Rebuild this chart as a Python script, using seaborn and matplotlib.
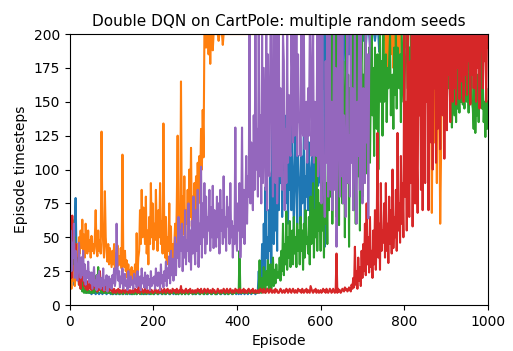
import numpy as np
import pandas as pd
import matplotlib
matplotlib.use("Agg")
import matplotlib.pyplot as plt
import seaborn as sns

title = "Double DQN on CartPole: multiple random seeds"
x_label = "Episode"
y_label = "Episode timesteps"
x_ticks = [0, 200, 400, 600, 800, 1000]
y_ticks = [0, 25, 50, 75, 100, 125, 150, 175, 200]

# episode timesteps read every 2 episodes (0, 2, ..., 1000); one row = 50 episodes
seed0 = [
    58, 30, 45, 20, 35, 15, 60, 79, 40, 25, 30, 18, 22, 14, 20, 12, 16, 11, 10, 12, 9, 10, 11, 9, 10,
    9, 8, 9, 10, 9, 9, 8, 9, 10, 9, 8, 9, 9, 10, 8, 9, 9, 10, 9, 8, 9, 10, 9, 9, 8,
    9, 10, 8, 9, 9, 8, 10, 9, 9, 8, 9, 10, 9, 8, 9, 9, 10, 8, 9, 9, 10, 9, 8, 9, 9,
    8, 9, 9, 10, 9, 8, 9, 9, 10, 9, 9, 8, 10, 9, 9, 8, 9, 10, 9, 9, 8, 9, 9, 10, 9,
    9, 8, 9, 10, 9, 9, 8, 9, 10, 9, 8, 9, 9, 10, 8, 9, 9, 10, 9, 8, 9, 10, 9, 9, 8,
    9, 10, 8, 9, 9, 8, 10, 9, 9, 8, 9, 10, 9, 8, 9, 9, 10, 8, 9, 9, 10, 9, 8, 9, 9,
    8, 9, 9, 10, 9, 8, 9, 9, 10, 9, 9, 8, 10, 9, 9, 8, 9, 10, 9, 9, 8, 9, 9, 10, 9,
    9, 8, 9, 10, 9, 9, 8, 9, 10, 9, 8, 9, 9, 10, 8, 9, 9, 10, 9, 8, 9, 10, 9, 9, 8,
    9, 10, 8, 9, 9, 8, 10, 9, 9, 8, 9, 10, 9, 8, 9, 9, 10, 8, 9, 9, 10, 9, 8, 9, 9,
    12, 25, 9, 31, 15, 45, 11, 60, 20, 87, 35, 50, 18, 70, 40, 95, 30, 132, 60, 45, 110, 55, 80, 40, 120,
    70, 146, 90, 130, 65, 110, 100, 140, 75, 120, 95, 60, 110, 85, 140, 70, 120, 90, 55, 100, 130, 88, 60, 110, 95,
    90, 60, 110, 75, 95, 125, 55, 95, 80, 130, 70, 120, 90, 65, 100, 110, 85, 60, 130, 75, 95, 125, 88, 100, 200,
    90, 200, 200, 160, 200, 43, 200, 200, 180, 200, 200, 150, 200, 200, 200, 170, 200, 200, 120, 200, 200, 200, 190, 200, 200,
    200, 200, 160, 200, 200, 200, 100, 200, 200, 185, 200, 200, 200, 200, 170, 200, 200, 200, 195, 200, 200, 190, 200, 200, 200,
    200, 195, 200, 200, 190, 200, 200, 200, 200, 192, 200, 200, 200, 200, 200, 195, 200, 200, 200, 200, 187, 200, 200, 200, 200,
    200, 200, 200, 200, 200, 200, 200, 200, 200, 200, 200, 200, 200, 200, 200, 200, 200, 200, 200, 200, 200, 200, 200, 200, 200,
    200, 200, 200, 200, 200, 200, 200, 200, 200, 200, 200, 200, 200, 200, 200, 200, 200, 200, 200, 200, 200, 200, 200, 200, 200,
    200, 200, 200, 200, 200, 200, 200, 200, 200, 200, 200, 200, 200, 200, 200, 200, 200, 200, 200, 200, 200, 200, 200, 200, 200,
    200, 200, 200, 200, 200, 200, 200, 200, 200, 200, 200, 200, 200, 200, 200, 200, 200, 200, 200, 200, 200, 200, 200, 200, 200,
    200, 200, 200, 200, 200, 200, 200, 200, 200, 200, 200, 200, 200, 200, 200, 200, 200, 200, 200, 200, 200, 200, 200, 200, 200,
    200]

seed1 = [
    15, 20, 12, 25, 18, 30, 14, 22, 35, 45, 30, 50, 38, 55, 42, 63, 40, 52, 35, 60, 45, 38, 55, 40, 48,
    35, 51, 40, 45, 38, 50, 70, 42, 36, 55, 40, 48, 38, 128, 60, 45, 35, 84, 50, 40, 32, 45, 30, 42, 35,
    28, 40, 30, 45, 26, 38, 32, 44, 29, 36, 30, 42, 27, 111, 35, 28, 40, 25, 33, 20, 30, 18, 26, 22, 28,
    17, 25, 20, 30, 18, 53, 22, 35, 40, 70, 45, 85, 50, 72, 60, 45, 80, 38, 55, 30, 65, 45, 90, 50, 75,
    41, 60, 48, 85, 55, 40, 70, 50, 90, 45, 62, 38, 134, 55, 35, 65, 30, 50, 40, 75, 32, 58, 27, 45, 35,
    45, 60, 40, 75, 125, 55, 70, 45, 165, 60, 80, 52, 95, 48, 70, 60, 85, 55, 100, 65, 116, 58, 80, 62, 90,
    65, 95, 70, 105, 75, 110, 92, 130, 100, 144, 109, 200, 200, 190, 200, 200, 185, 200, 178, 200, 200, 188, 200, 200, 200,
    200, 200, 200, 195, 200, 200, 200, 200, 192, 200, 200, 200, 200, 200, 200, 200, 200, 200, 200, 200, 200, 200, 200, 200, 200,
    200, 200, 200, 200, 200, 200, 200, 200, 200, 200, 200, 200, 200, 200, 200, 200, 200, 200, 200, 200, 200, 200, 200, 200, 200,
    200, 200, 200, 200, 200, 200, 200, 200, 200, 200, 200, 200, 200, 200, 200, 200, 200, 200, 200, 200, 200, 200, 200, 200, 200,
    200, 200, 200, 200, 200, 200, 200, 200, 200, 200, 200, 200, 200, 200, 200, 200, 200, 200, 200, 200, 200, 200, 200, 200, 200,
    200, 200, 200, 200, 200, 200, 200, 200, 200, 200, 200, 200, 200, 200, 200, 200, 200, 200, 200, 200, 200, 200, 200, 200, 200,
    200, 200, 200, 200, 200, 200, 200, 200, 200, 200, 200, 200, 200, 200, 200, 200, 200, 200, 200, 200, 200, 200, 200, 200, 200,
    200, 200, 200, 200, 200, 200, 200, 200, 200, 200, 200, 200, 200, 200, 200, 200, 200, 200, 200, 200, 200, 200, 200, 200, 200,
    200, 200, 200, 200, 200, 200, 200, 200, 200, 200, 200, 200, 200, 200, 200, 200, 200, 200, 200, 200, 200, 200, 200, 200, 200,
    200, 196, 200, 180, 200, 200, 168, 200, 200, 185, 200, 200, 175, 200, 200, 200, 190, 200, 200, 170, 200, 200, 200, 200, 200,
    200, 190, 200, 200, 185, 200, 200, 200, 200, 200, 195, 200, 200, 200, 200, 200, 200, 200, 200, 200, 200, 200, 200, 200, 200,
    200, 200, 200, 200, 200, 200, 200, 200, 68, 150, 200, 120, 200, 180, 90, 200, 200, 140, 60, 110, 200, 200, 200, 200, 200,
    200, 200, 200, 200, 200, 200, 200, 200, 200, 200, 200, 200, 200, 200, 200, 200, 200, 200, 200, 200, 200, 200, 200, 200, 200,
    200, 200, 200, 200, 200, 200, 200, 200, 200, 200, 200, 200, 200, 200, 200, 200, 200, 200, 200, 200, 200, 200, 200, 200, 200,
    200]

seed2 = [
    40, 55, 35, 63, 45, 30, 50, 25, 35, 20, 28, 15, 22, 12, 18, 10, 14, 9, 12, 9, 10, 9, 11, 9, 10,
    9, 10, 9, 12, 9, 15, 10, 22, 9, 28, 12, 21, 10, 9, 11, 9, 10, 9, 9, 10, 9, 9, 10, 9, 9,
    9, 8, 9, 10, 9, 9, 8, 9, 10, 9, 8, 9, 9, 10, 8, 9, 9, 10, 9, 8, 9, 10, 9, 9, 8,
    9, 10, 8, 9, 9, 8, 10, 9, 9, 8, 9, 10, 9, 8, 9, 9, 10, 8, 9, 9, 10, 9, 8, 9, 9,
    8, 9, 9, 10, 9, 8, 9, 9, 10, 9, 9, 8, 10, 9, 9, 8, 9, 10, 9, 9, 8, 9, 9, 10, 9,
    9, 10, 8, 9, 9, 8, 10, 9, 9, 8, 9, 10, 9, 8, 9, 9, 10, 8, 9, 9, 10, 9, 8, 9, 9,
    9, 8, 9, 10, 9, 9, 8, 9, 10, 9, 8, 9, 9, 10, 8, 9, 9, 10, 9, 8, 9, 10, 9, 9, 8,
    8, 9, 9, 10, 9, 8, 9, 9, 10, 9, 9, 8, 10, 9, 9, 8, 9, 10, 9, 9, 8, 9, 9, 10, 9,
    9, 10, 9, 40, 9, 10, 9, 9, 10, 9, 9, 10, 9, 9, 10, 9, 9, 10, 9, 9, 10, 9, 9, 10, 9,
    9, 10, 33, 12, 9, 20, 10, 28, 12, 9, 25, 15, 33, 11, 18, 30, 12, 22, 35, 14, 26, 16, 30, 20, 24,
    20, 35, 18, 40, 25, 60, 22, 45, 30, 69, 26, 50, 35, 62, 28, 45, 55, 30, 65, 38, 50, 28, 60, 40, 55,
    30, 65, 40, 55, 26, 60, 35, 70, 45, 50, 38, 65, 30, 80, 45, 60, 90, 35, 70, 50, 109, 40, 85, 55, 75,
    40, 100, 55, 80, 35, 109, 60, 90, 45, 130, 70, 200, 80, 200, 60, 170, 200, 90, 200, 65, 150, 200, 59, 200, 120,
    200, 75, 180, 150, 50, 150, 200, 90, 170, 43, 160, 130, 110, 200, 70, 190, 140, 60, 140, 200, 95, 170, 55, 170, 200,
    80, 170, 130, 200, 97, 180, 150, 120, 190, 105, 160, 200, 140, 175, 110, 190, 155, 130, 185, 100, 170, 200, 150, 180, 125,
    200, 150, 170, 185, 135, 175, 160, 180, 200, 140, 165, 170, 130, 190, 155, 200, 145, 190, 170, 160, 185, 135, 200, 175, 150,
    150, 180, 180, 200, 160, 175, 190, 170, 200, 150, 165, 200, 185, 170, 160, 190, 175, 175, 200, 170, 155, 185, 190, 200, 180,
    170, 200, 200, 160, 200, 185, 200, 150, 200, 200, 175, 200, 165, 200, 200, 155, 200, 190, 200, 145, 200, 180, 200, 160, 200,
    200, 150, 190, 160, 200, 140, 175, 131, 160, 150, 140, 165, 135, 180, 145, 155, 142, 170, 150, 200, 148, 160, 145, 175, 155,
    150, 170, 142, 185, 160, 200, 150, 145, 130, 160, 127, 150, 140, 170, 135, 180, 155, 200, 145, 165, 135, 150, 124, 160, 130,
    150]

seed3 = [
    30, 50, 20, 66, 40, 55, 25, 45, 35, 20, 30, 15, 25, 12, 35, 18, 28, 14, 22, 12, 18, 11, 15, 12, 20,
    14, 11, 16, 12, 22, 13, 18, 12, 10, 14, 11, 25, 12, 15, 11, 13, 10, 12, 16, 11, 13, 10, 12, 11, 14,
    10, 11, 9, 12, 10, 9, 11, 10, 12, 9, 11, 10, 9, 11, 12, 10, 9, 11, 10, 12, 9, 10, 11, 9, 10,
    11, 9, 10, 12, 10, 11, 9, 14, 10, 9, 10, 12, 11, 9, 10, 12, 10, 9, 11, 10, 9, 12, 10, 11, 9,
    9, 10, 12, 11, 9, 10, 11, 9, 10, 12, 11, 9, 10, 12, 10, 9, 11, 12, 10, 9, 11, 10, 9, 12, 11,
    10, 11, 9, 12, 10, 9, 11, 10, 14, 9, 11, 10, 9, 11, 12, 10, 9, 11, 10, 12, 9, 10, 11, 9, 10,
    11, 9, 10, 12, 10, 11, 9, 12, 10, 9, 10, 12, 11, 9, 10, 12, 10, 9, 11, 10, 9, 12, 10, 11, 9,
    9, 10, 12, 11, 9, 10, 11, 9, 10, 12, 11, 9, 10, 12, 10, 9, 11, 12, 10, 9, 11, 10, 9, 12, 11,
    10, 11, 9, 12, 10, 9, 11, 10, 12, 9, 11, 10, 9, 11, 12, 10, 9, 11, 10, 12, 9, 10, 11, 9, 10,
    11, 9, 10, 12, 10, 11, 9, 12, 10, 9, 10, 12, 11, 9, 10, 12, 10, 9, 11, 10, 9, 12, 10, 11, 9,
    9, 10, 12, 11, 9, 10, 11, 9, 10, 12, 11, 9, 10, 12, 10, 9, 11, 12, 10, 9, 11, 10, 9, 12, 11,
    10, 11, 9, 12, 10, 9, 11, 10, 12, 9, 11, 10, 9, 14, 12, 10, 9, 11, 10, 12, 9, 10, 11, 9, 10,
    11, 9, 10, 12, 10, 11, 9, 12, 10, 9, 10, 12, 11, 9, 10, 12, 10, 9, 11, 38, 9, 12, 10, 11, 9,
    10, 12, 11, 10, 13, 11, 12, 10, 11, 13, 12, 10, 15, 12, 20, 13, 43, 15, 25, 12, 35, 18, 28, 14, 40,
    20, 45, 25, 60, 22, 75, 30, 50, 24, 65, 28, 40, 20, 55, 30, 70, 26, 48, 127, 35, 60, 26, 90, 40, 55,
    46, 75, 35, 90, 40, 60, 31, 80, 45, 70, 38, 100, 42, 65, 50, 85, 40, 127, 55, 75, 46, 110, 60, 90, 50,
    200, 80, 150, 55, 200, 120, 65, 180, 90, 200, 58, 160, 200, 75, 200, 110, 68, 200, 140, 200, 85, 200, 70, 170, 200,
    90, 200, 150, 200, 70, 200, 180, 120, 200, 100, 200, 160, 200, 105, 200, 130, 200, 180, 115, 200, 200, 140, 200, 108, 200,
    200, 129, 200, 170, 200, 135, 200, 185, 150, 200, 160, 200, 148, 200, 175, 200, 152, 200, 165, 200, 190, 150, 200, 170, 200,
    155, 200, 180, 200, 148, 200, 170, 200, 160, 200, 185, 150, 200, 175, 200, 145, 200, 190, 200, 160, 200, 180, 200, 150, 200,
    190]

seed4 = [
    30, 55, 25, 46, 35, 60, 20, 40, 28, 18, 25, 46, 30, 20, 35, 22, 40, 18, 30, 15, 25, 20, 32, 17, 24,
    16, 24, 12, 20, 28, 14, 18, 11, 22, 13, 25, 16, 12, 20, 14, 27, 11, 18, 15, 22, 10, 17, 21, 13, 19,
    12, 22, 16, 27, 14, 20, 60, 30, 18, 25, 13, 21, 16, 27, 12, 20, 23, 14, 18, 11, 25, 16, 13, 21, 15,
    18, 12, 23, 16, 20, 13, 25, 18, 14, 21, 11, 27, 16, 20, 13, 24, 17, 12, 22, 15, 19, 11, 25, 14, 20,
    16, 21, 12, 27, 18, 14, 24, 20, 11, 30, 16, 22, 13, 25, 18, 32, 14, 27, 20, 36, 16, 40, 22, 34, 18,
    30, 50, 22, 45, 35, 65, 28, 55, 40, 60, 25, 50, 35, 70, 30, 48, 40, 75, 32, 55, 26, 62, 38, 80, 45,
    30, 70, 40, 85, 28, 60, 45, 102, 35, 75, 50, 90, 38, 80, 45, 65, 55, 85, 40, 72, 50, 88, 42, 70, 60,
    43, 80, 50, 75, 38, 85, 55, 70, 45, 95, 50, 65, 40, 80, 58, 72, 45, 90, 50, 62, 35, 58, 45, 131, 50,
    40, 75, 55, 90, 35, 60, 131, 50, 85, 45, 70, 110, 60, 95, 80, 200, 75, 120, 90, 70, 140, 85, 200, 100, 130,
    80, 200, 95, 140, 75, 200, 90, 175, 130, 85, 200, 70, 185, 100, 95, 200, 200, 125, 80, 200, 105, 90, 200, 75, 115,
    200, 95, 160, 110, 85, 200, 180, 70, 130, 90, 200, 105, 155, 115, 110, 200, 170, 120, 200, 125, 130, 200, 110, 185, 135,
    135, 110, 200, 130, 125, 200, 115, 140, 150, 105, 160, 125, 200, 200, 110, 145, 200, 105, 150, 120, 110, 200, 95, 120, 200,
    110, 75, 200, 100, 90, 65, 180, 105, 200, 80, 120, 200, 85, 150, 70, 110, 200, 85, 175, 43, 100, 200, 140, 80, 200,
    95, 200, 75, 140, 110, 65, 150, 200, 90, 125, 80, 200, 105, 160, 70, 120, 200, 95, 60, 150, 110, 200, 85, 200, 130,
    75, 160, 150, 90, 200, 120, 185, 64, 170, 200, 200, 200, 200, 200, 200, 200, 200, 200, 200, 200, 200, 200, 200, 200, 200,
    200, 200, 200, 200, 200, 200, 200, 200, 200, 200, 200, 200, 200, 200, 200, 200, 200, 200, 200, 200, 200, 200, 200, 200, 200,
    200, 200, 200, 200, 200, 200, 200, 200, 200, 200, 200, 200, 200, 200, 200, 200, 200, 200, 200, 200, 200, 200, 200, 200, 200,
    200, 200, 200, 200, 200, 200, 200, 200, 200, 200, 200, 200, 200, 200, 200, 200, 200, 200, 200, 200, 200, 200, 200, 200, 200,
    200, 200, 200, 200, 200, 200, 200, 200, 200, 200, 200, 200, 200, 200, 200, 200, 200, 200, 200, 200, 200, 200, 200, 200, 200,
    200, 200, 200, 200, 200, 200, 200, 200, 200, 200, 200, 200, 200, 200, 200, 200, 200, 200, 200, 200, 200, 200, 200, 200, 200,
    200]

series = [seed0, seed1, seed2, seed3, seed4]

frames = []
for i, vals in enumerate(series):
    ep = np.linspace(0, 1000, len(vals))
    frames.append(pd.DataFrame({"episode": ep, "steps": vals, "seed": i}))
df = pd.concat(frames, ignore_index=True)

fig = plt.figure(figsize=(5.13, 3.51), dpi=100)
ax = fig.add_axes([0.136, 0.131, 0.815, 0.772])
palette = sns.color_palette("tab10", 5)
for i in range(5):
    sub = df[df["seed"] == i]
    sns.lineplot(data=sub, x="episode", y="steps", ax=ax, color=palette[i],
                 estimator=None, sort=False, linewidth=1.5, legend=False)

ax.set_xlim(0, 1000)
ax.set_ylim(0, 200)
ax.set_xticks(x_ticks)
ax.set_yticks(y_ticks)
ax.set_title(title, fontsize=11)
ax.set_xlabel(x_label)
ax.set_ylabel(y_label)
fig.savefig("out.png", dpi=100)
